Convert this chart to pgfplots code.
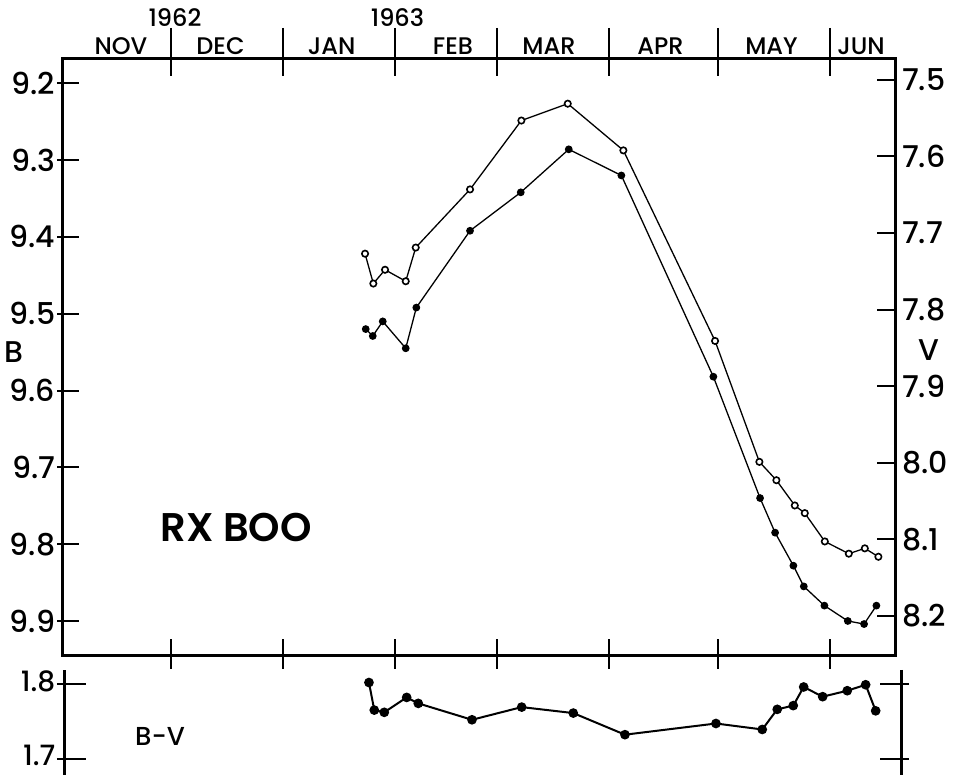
\documentclass[border=0pt]{standalone}
\usepackage{pgfplots}
\pgfplotsset{compat=1.18}
\usepackage{fontspec}
\setmainfont{Poppins}[UprightFont={* Medium}, BoldFont={* SemiBold}]
\pgfplotsset{
  base/.style={scale only axis, width=416.35pt, height=298.35pt, xmin=0, xmax=230, clip=false, at={(0pt,0pt)}, anchor=south west},
  nolines/.style={axis line style={draw=none}},
  months/.style={xtick={30,61,92,120,151,181,212}, xticklabels={}},
  Brange/.style={ymin=9.1684, ymax=9.9452, y dir=reverse},
  Vrange/.style={ymin=7.4726, ymax=8.2523, y dir=reverse},
  tk/.style={tick style={line width=1pt, black}},
  lbl/.style={font=\fontsize{15}{18}\selectfont, /pgf/number format/fixed, /pgf/number format/fixed zerofill, /pgf/number format/precision=1, /pgf/number format/assume math mode=true},
}
\begin{document}
\begin{tikzpicture}
\useasboundingbox (-31.15pt,-59.65pt) rectangle (445.35pt,327.85pt);
% main frame + inner month ticks + B data
\begin{axis}[base, Brange, months, ytick=\empty, xtick pos=both, tick align=inside, major tick length=8.5pt, tk, axis line style={line width=1.5pt}]
\addplot[black, line width=0.65pt, mark=*, mark size=1.6pt] coordinates {
(83.81,9.520) (85.75,9.529) (88.51,9.510) (94.86,9.545) (97.79,9.492)
(112.62,9.392) (126.63,9.342) (139.89,9.286) (154.42,9.320) (179.83,9.582)
(192.73,9.740) (196.88,9.785) (201.93,9.828) (204.81,9.855) (210.50,9.880)
(216.96,9.900) (221.46,9.904) (224.86,9.880)};
\end{axis}
% outer top month ticks
\begin{axis}[base, Brange, nolines, months, ytick=\empty, xtick pos=right, tick align=outside, major tick length=15.5pt, tk]
\end{axis}
% outer bottom month ticks
\begin{axis}[base, Brange, nolines, months, ytick=\empty, xtick pos=left, tick align=outside, major tick length=6.5pt, tk]
\end{axis}
% left B scale
\begin{axis}[base, Brange, nolines, xtick=\empty, ytick={9.2,9.3,9.4,9.5,9.6,9.7,9.8,9.9}, ytick pos=left, yticklabel pos=left, tick align=inside, major tick length=8.5pt, tk, yticklabel style={lbl}]
\end{axis}
\begin{axis}[base, Brange, nolines, xtick=\empty, ytick={9.2,9.3,9.4,9.5,9.6,9.7,9.8,9.9}, yticklabels={}, ytick pos=left, tick align=outside, major tick length=2.5pt, tk]
\end{axis}
% right V scale + V data
\begin{axis}[base, Vrange, nolines, xtick=\empty, ytick={7.5,7.6,7.7,7.8,7.9,8.0,8.1,8.2}, ytick pos=right, yticklabel pos=right, tick align=inside, major tick length=9pt, tk, yticklabel style={lbl}]
\addplot[black, line width=0.65pt, mark=*, mark size=1.6pt, mark options={fill=white, line width=0.8pt}] coordinates {
(83.62,7.727) (85.91,7.766) (89.14,7.748) (94.86,7.763) (97.62,7.719)
(112.62,7.643) (126.80,7.553) (139.61,7.531) (154.97,7.592) (180.30,7.841)
(192.54,7.999) (197.24,8.023) (202.32,8.056) (205.08,8.066) (210.61,8.103)
(217.24,8.119) (221.66,8.112) (225.41,8.123)};
\end{axis}
% bottom B-V panel
\begin{axis}[scale only axis, width=418pt, height=52.5pt, at={(1.35pt,-59.65pt)}, anchor=south west, xmin=0.75, xmax=231.7, ymin=1.6779, ymax=1.8188, clip=false, hide x axis, ytick={1.7,1.8}, ytick pos=both, yticklabel pos=left, tick align=inside, major tick length=10.5pt, tk, axis line style={line width=1.5pt}, yticklabel style={lbl, font=\fontsize{14}{16}\selectfont, xshift=-1.3pt, yshift=1.5pt, inner ysep=0pt}]
\addplot[black, line width=1pt, mark=*, mark size=1.9pt] coordinates {
(84.72,1.802) (86.19,1.765) (88.95,1.762) (95.14,1.782) (98.34,1.774)
(113.18,1.752) (126.91,1.769) (141.16,1.761) (155.44,1.732) (180.58,1.747)
(193.37,1.739) (197.51,1.766) (201.93,1.771) (204.81,1.796) (210.06,1.783)
(216.85,1.791) (221.93,1.799) (224.70,1.764)};
\end{axis}
\begin{axis}[scale only axis, width=418pt, height=52.5pt, at={(1.35pt,-59.65pt)}, anchor=south west, xmin=0.75, xmax=231.7, ymin=1.6779, ymax=1.8188, hide x axis, nolines, ytick={1.7,1.8}, yticklabels={}, ytick pos=both, tick align=outside, major tick length=4pt, tk]
\end{axis}
% text
\begin{scope}[every node/.style={font=\fontsize{12}{14}\selectfont, inner sep=0pt}]
\node[anchor=base] at (29.35pt,300.35pt) {NOV};
\node[anchor=base] at (79.1pt,300.35pt) {DEC};
\node[anchor=base] at (134.7pt,300.35pt) {JAN};
\node[anchor=base] at (195.35pt,300.35pt) {FEB};
\node[anchor=base] at (243.35pt,300.35pt) {MAR};
\node[anchor=base] at (299.1pt,300.35pt) {APR};
\node[anchor=base] at (354.6pt,300.35pt) {MAY};
\node[anchor=base] at (399.35pt,300.35pt) {JUN};
\node[anchor=base] at (56.35pt,314.35pt) {1962};
\node[anchor=base] at (167.6pt,314.35pt) {1963};
\end{scope}
\node[font=\fontsize{20}{24}\selectfont\bfseries, inner sep=0pt] at (86.85pt,64.35pt) {RX BOO};
\node[font=\fontsize{13}{15}\selectfont, inner sep=0pt] at (48.85pt,-40.15pt) {B-V};
\node[font=\fontsize{15}{18}\selectfont, inner sep=0pt] at (-24.15pt,151.85pt) {B};
\node[font=\fontsize{15}{18}\selectfont, inner sep=0pt] at (433.35pt,152.85pt) {V};
\end{tikzpicture}
\end{document}
